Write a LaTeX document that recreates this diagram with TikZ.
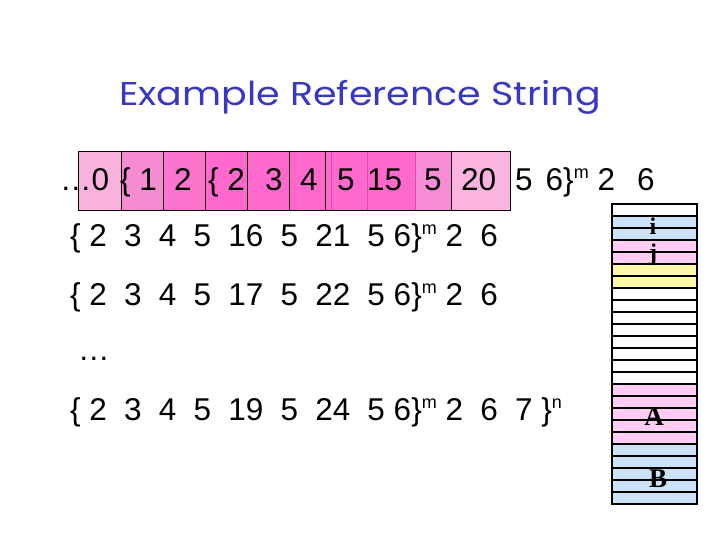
\documentclass[tikz,border=0pt]{standalone}
\usepackage{fontspec}
\setmainfont{Liberation Sans}
\newfontfamily\titlefont{Poppins}
\newfontfamily\labfont{Liberation Serif}
\definecolor{titleblue}{RGB}{56,56,196}
\definecolor{pkA}{RGB}{249,178,221}
\definecolor{pkB}{RGB}{245,140,210}
\definecolor{pkC}{RGB}{252,116,205}
\definecolor{pkD}{RGB}{255,104,204}
\definecolor{pkE}{RGB}{249,140,214}
\definecolor{pkF}{RGB}{250,180,222}
\definecolor{pkEdge}{RGB}{214,80,170}
\definecolor{stblue}{RGB}{204,226,248}
\definecolor{stpink}{RGB}{255,204,244}
\definecolor{styellow}{RGB}{255,249,168}
\newcommand{\sups}[1]{\raisebox{12pt}{\fontsize{18}{18}\selectfont #1}}
\newcommand{\gp}{\hspace{17.2pt}}
\tikzset{
  row/.style={anchor=base west, inner sep=0pt, font=\fontsize{31.5}{31.5}\selectfont},
  lab/.style={anchor=base, inner sep=0pt, font=\labfont\bfseries\fontsize{27}{27}\selectfont},
  smlab/.style={lab, font=\labfont\bfseries\fontsize{24}{24}\selectfont},
  stline/.style={line width=1.1pt},
}
\begin{document}
\begin{tikzpicture}[x=1pt,y=-1pt]
\useasboundingbox (0,0) rectangle (720,540);
% title
\node[anchor=base, inner sep=0pt, text=titleblue, font=\titlefont\fontsize{33}{33}\selectfont, xscale=1.15] (title) at (360,106) {Example Reference String};
% top boxes
\fill[pkA] (78,151) rectangle (121,210);
\fill[pkB] (121,151) rectangle (163,210);
\fill[pkC] (163,151) rectangle (205,210);
\fill[pkD] (205,151) rectangle (415,210);
\fill[pkE] (415,151) rectangle (451,210);
\fill[pkF] (451,151) rectangle (510,210);
\foreach \x in {331,367,415} \draw[pkEdge, line width=0.6pt] (\x,151) -- (\x,210);
\foreach \x in {121,163,205,247,289,325,451} \draw[line width=0.9pt] (\x,151) -- (\x,210);
\draw[line width=0.9pt] (78,151) rectangle (510,210);
% row 1 tokens
\node[row] (r1a) at (60,191) {\ldots0};
\node[row] (r1b) at (120,191) {\{ 1};
\node[row] (r1c) at (174,191) {2};
\node[row] (r1d) at (208,191) {\{ 2};
\node[row] (r1e) at (265,191) {3};
\node[row] (r1f) at (300,191) {4};
\node[row] (r1g) at (337,191) {5};
\node[row] (r1h) at (367,191) {15};
\node[row] (r1i) at (424,191) {5};
\node[row] (r1j) at (461,191) {20};
\node[row] (r1k) at (515,191) {5\hspace{13pt}6\}\sups{m} 2\hspace{22pt}6};
% other rows
\node[row] (r2) at (70,246) {\{ 2\gp3\gp4\gp5\gp16\gp5\gp21\gp5 6\}\sups{m} 2\gp6};
\node[row] (r3) at (70,305) {\{ 2\gp3\gp4\gp5\gp17\gp5\gp22\gp5 6\}\sups{m} 2\gp6};
\node[row] (r4) at (78,360) {\ldots};
\node[row] (r5) at (70,420) {\{ 2\gp3\gp4\gp5\gp19\gp5\gp24\gp5 6\}\sups{m} 2\gp6\gp7 \}\sups{n}};
% stack
\fill[stblue] (612,216) rectangle (697,240);
\fill[stpink] (612,240) rectangle (697,264);
\fill[styellow] (612,264) rectangle (697,288);
\fill[stpink] (612,384) rectangle (697,444);
\fill[stblue] (612,444) rectangle (697,504);
\foreach \k in {1,...,24} \draw[stline] (612,204+12*\k) -- (697,204+12*\k);
\draw[stline] (612,204) rectangle (697,504);
\node[smlab] (li) at (653,235) {i};
\node[smlab] (lj) at (653,260) {j};
\node[lab] (lA) at (654,425) {A};
\node[lab] (lB) at (658,487) {B};
\end{tikzpicture}
\end{document}
